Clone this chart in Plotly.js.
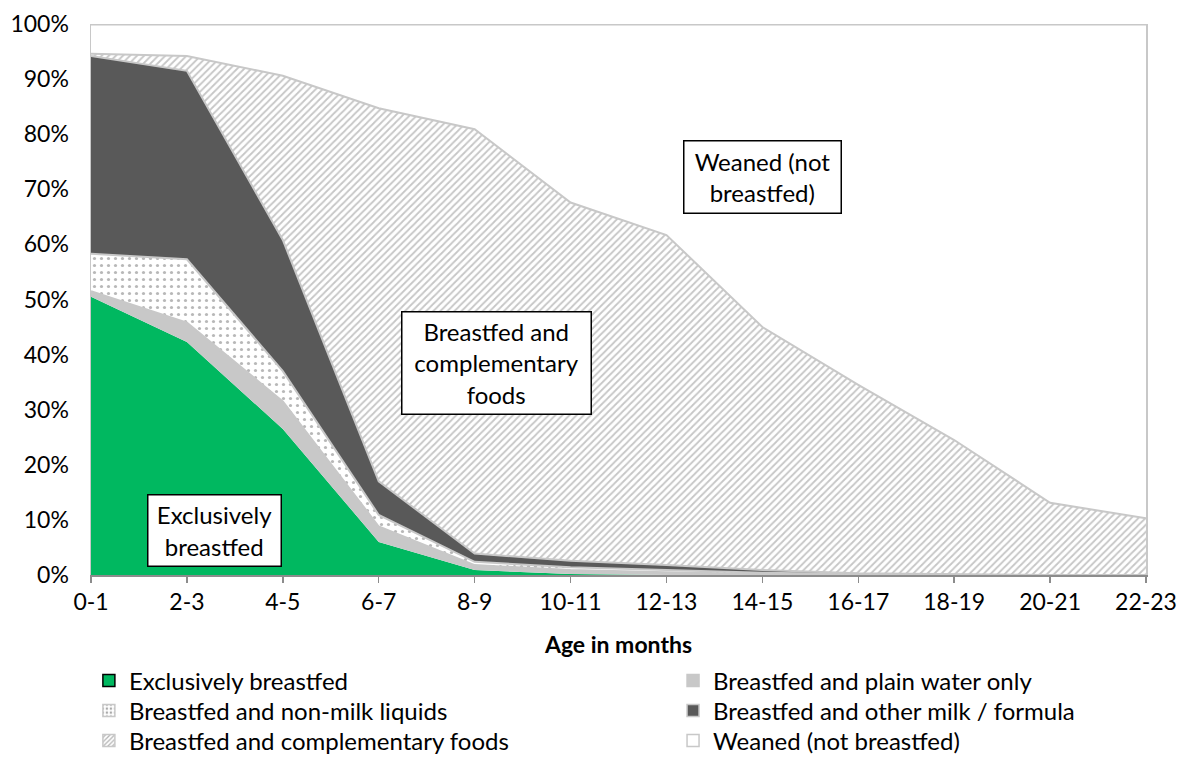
<!DOCTYPE html>
<html>
<head>
<meta charset="utf-8">
<script src="https://cdn.plot.ly/plotly-3.0.1.min.js"></script>
<style>
  html, body { margin: 0; padding: 0; background: #ffffff; }
  #chart { width: 1180px; height: 760px; }
</style>
</head>
<body>
<div id="chart"></div>
<script>
// Age groups (x categories)
const ageGroups = ['0-1', '2-3', '4-5', '6-7', '8-9', '10-11', '12-13', '14-15', '16-17', '18-19', '20-21', '22-23'];

// Percentages of children by feeding status (stacked to 100%)
const exclusivelyBreastfed = [50.5, 42.3, 26.5, 6.0, 0.9, 0.2, 0, 0, 0, 0, 0, 0];
const plainWaterOnly       = [1.0, 3.5, 5.0, 2.8, 0.9, 0.7, 0.5, 0.2, 0.1, 0, 0, 0];
const nonMilkLiquids       = [6.8, 11.5, 5.5, 2.1, 0.6, 0.5, 0.4, 0.2, 0.1, 0.1, 0, 0];
const otherMilkFormula     = [35.9, 34.2, 23.8, 6.1, 1.5, 1.2, 0.9, 0.5, 0.1, 0, 0, 0];
const complementaryFoods   = [0.4, 2.7, 29.8, 67.7, 77.0, 65.0, 59.9, 44.1, 34.2, 24.4, 13.1, 10.3];
const weaned               = [5.4, 5.8, 9.4, 15.3, 19.1, 32.4, 38.3, 55.0, 65.5, 75.5, 86.9, 89.7];

const seriesNames = [
  'Exclusively breastfed',
  'Breastfed and plain water only',
  'Breastfed and non-milk liquids',
  'Breastfed and other milk / formula',
  'Breastfed and complementary foods',
  'Weaned (not breastfed)'
];

const yTickVals = [0, 10, 20, 30, 40, 50, 60, 70, 80, 90, 100];

const FONT = 'Lato, "Open Sans", "DejaVu Sans", sans-serif';
const GREEN = '#00b860';
const LIGHT = '#c8c8c8';
const DARK = '#595959';

const styles = [
  { fillcolor: GREEN, line: { color: GREEN, width: 0 } },
  { fillcolor: LIGHT, line: { color: LIGHT, width: 2 } },
  { fillcolor: '#ffffff', fillpattern: { shape: '.', fgcolor: '#b8b8b8', bgcolor: '#ffffff', size: 7, solidity: 0.16 }, line: { color: LIGHT, width: 2 } },
  { fillcolor: DARK, line: { color: LIGHT, width: 2 } },
  { fillcolor: '#ffffff', fillpattern: { shape: '/', fgcolor: '#c6c6c6', bgcolor: '#ffffff', size: 5, solidity: 0.35 }, line: { color: LIGHT, width: 2 } },
  { fillcolor: '#ffffff', line: { color: LIGHT, width: 3 } }
];

const seriesValues = [exclusivelyBreastfed, plainWaterOnly, nonMilkLiquids, otherMilkFormula, complementaryFoods, weaned];

const data = [];
seriesValues.forEach((vals, i) => {
  const t = {
    type: 'scatter',
    mode: 'lines',
    name: seriesNames[i],
    x: ageGroups,
    y: vals,
    stackgroup: 'one',
    fillcolor: styles[i].fillcolor,
    line: styles[i].line,
    showlegend: false,
    hovertemplate: '%{x}: %{y}%<extra>' + seriesNames[i] + '</extra>'
  };
  if (styles[i].fillpattern) t.fillpattern = styles[i].fillpattern;
  data.push(t);
});

// Legend entries (square swatches) - no visible bars (values are null)
const legendMarkers = [
  { color: GREEN, line: { color: '#000000', width: 1.5 } },
  { color: LIGHT, line: { color: LIGHT, width: 1.5 } },
  { color: '#ffffff', pattern: { shape: '.', fgcolor: '#a8a8a8', bgcolor: '#ffffff', size: 5, solidity: 0.3 }, line: { color: LIGHT, width: 1.5 } },
  { color: DARK, line: { color: LIGHT, width: 1.5 } },
  { color: '#ffffff', pattern: { shape: '/', fgcolor: '#b4b4b4', bgcolor: '#ffffff', size: 4, solidity: 0.4 }, line: { color: LIGHT, width: 1.5 } },
  { color: '#ffffff', line: { color: LIGHT, width: 1.5 } }
];
const legendIds = ['legend', 'legend2', 'legend3', 'legend4', 'legend5', 'legend6'];
seriesNames.forEach((n, i) => {
  data.push({ type: 'bar', name: n, x: [ageGroups[0]], y: [null], marker: legendMarkers[i], showlegend: true, legend: legendIds[i], hoverinfo: 'skip' });
});

// Legend grid: two columns (paper x), three rows (container y)
const legendColX = [-0.002, 0.5517];
const legendRowY = [1 - 681 / 760, 1 - 711 / 760, 1 - 741 / 760];

const layout = {
  width: 1180,
  height: 760,
  margin: { l: 91, r: 34, t: 24, b: 185 },
  paper_bgcolor: '#ffffff',
  plot_bgcolor: '#ffffff',
  font: { family: FONT, size: 23, color: '#000000' },
  showlegend: true,
  xaxis: {
    type: 'category',
    categoryarray: ageGroups,
    range: [0, ageGroups.length - 1],
    showgrid: false,
    zeroline: false,
    showline: true,
    linecolor: '#8c8c8c',
    linewidth: 1.5,
    ticks: 'outside',
    ticklen: 6,
    tickwidth: 1.5,
    tickcolor: '#8c8c8c',
    tickangle: 0,
    tickfont: { family: FONT, size: 23, color: '#000000' },
    title: { text: '<b>Age in months</b>', font: { family: FONT, size: 23, color: '#000000' }, standoff: 27 },
    automargin: false,
    fixedrange: true
  },
  yaxis: {
    range: [0, 100],
    tickvals: yTickVals,
    ticktext: yTickVals.map(v => v + '%'),
    showgrid: false,
    zeroline: false,
    showline: true,
    mirror: true,
    linecolor: LIGHT,
    linewidth: 1.5,
    ticks: '',
    ticklabelstandoff: 16,
    tickfont: { family: FONT, size: 23, color: '#000000' },
    automargin: false,
    fixedrange: true
  },
  annotations: [
    {
      x: 1.29, y: 8.0, xref: 'x', yref: 'y',
      text: 'Exclusively<br>breastfed',
      showarrow: false,
      font: { family: FONT, size: 24, color: '#000000' },
      bgcolor: '#ffffff', bordercolor: '#000000', borderwidth: 1.5, borderpad: 2,
      width: 128, height: 66, align: 'center', valign: 'middle'
    },
    {
      x: 4.23, y: 38.4, xref: 'x', yref: 'y',
      text: 'Breastfed and<br>complementary<br>foods',
      showarrow: false,
      font: { family: FONT, size: 24, color: '#000000' },
      bgcolor: '#ffffff', bordercolor: '#000000', borderwidth: 1.5, borderpad: 2,
      width: 184, height: 97, align: 'center', valign: 'middle'
    },
    {
      x: 7.0, y: 72.3, xref: 'x', yref: 'y',
      text: 'Weaned (not<br>breastfed)',
      showarrow: false,
      font: { family: FONT, size: 24, color: '#000000' },
      bgcolor: '#ffffff', bordercolor: '#000000', borderwidth: 1.5, borderpad: 2,
      width: 152, height: 67, align: 'center', valign: 'middle'
    }
  ]
};

legendIds.forEach((id, i) => {
  const col = i % 2;
  const row = Math.floor(i / 2);
  layout[id] = {
    orientation: 'v',
    xref: 'paper',
    yref: 'container',
    x: legendColX[col],
    xanchor: 'left',
    y: legendRowY[row],
    yanchor: 'middle',
    itemwidth: 30,
    borderwidth: 0,
    font: { family: FONT, size: 24, color: '#000000' },
    bgcolor: 'rgba(0,0,0,0)'
  };
});

Plotly.newPlot('chart', data, layout, { displayModeBar: false, staticPlot: true });
</script>
</body>
</html>
